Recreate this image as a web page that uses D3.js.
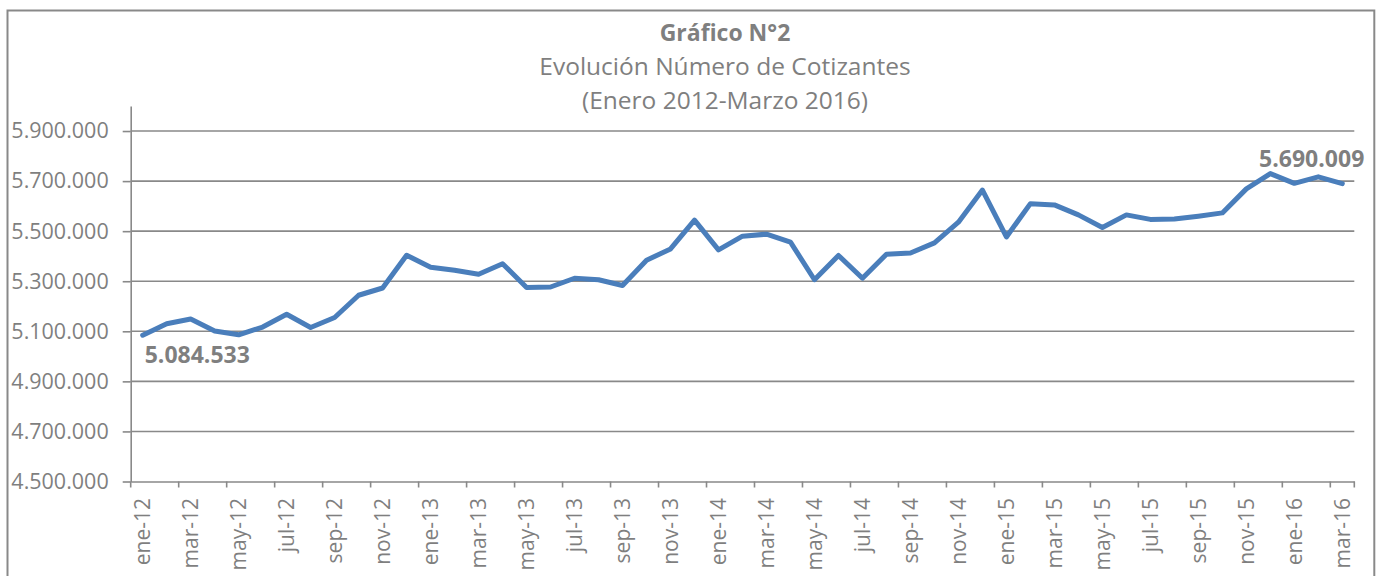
<!DOCTYPE html>
<html>
<head>
<meta charset="utf-8">
<script src="https://cdn.jsdelivr.net/npm/d3@7"></script>
<style>
  body { margin: 0; background: #fff; }
  svg text { font-family: "Open Sans", "Noto Sans", sans-serif; fill: #7f7f7f; }
</style>
</head>
<body>
<svg id="chart" width="1381" height="576"></svg>
<script>
// Months shown on the x axis (ene-12 .. mar-16)
const monthNames = ["ene", "feb", "mar", "abr", "may", "jun", "jul", "ago", "sep", "oct", "nov", "dic"];
const months = [];
for (let yr = 12; yr <= 16; yr++) {
    monthNames.forEach(function(m, k) {
        if (yr === 16 && k > 2) return;
        months.push(m + "-" + yr);
    });
}

// Cotizantes por mes
const cotizantes = [
    5084533, 5130000, 5149000, 5101000, 5086000, 5117000, 5168000, 5115000, 5155000, 5244000,
    5273000, 5404000, 5356000, 5344000, 5328000, 5370000, 5275000, 5277000, 5312000, 5306000,
    5283000, 5384000, 5429000, 5544000, 5425000, 5480000, 5488000, 5456000, 5306000, 5403000,
    5312000, 5408000, 5413000, 5453000, 5536000, 5664000, 5477000, 5610000, 5605000, 5565000,
    5515000, 5565000, 5547000, 5549000, 5560000, 5573000, 5669000, 5730000, 5691000, 5717000,
    5690009
];

const yTicks = [4500000, 4700000, 4900000, 5100000, 5300000, 5500000, 5700000, 5900000];
const yDomain = [4500000, 6000000];

const titleLines = ["Gráfico N°2", "Evolución Número de Cotizantes", "(Enero 2012-Marzo 2016)"];

const svg = d3.select("#chart");
const margin = { top: 106, left: 130.7, right: 1381 - 1354.3, bottom: 576 - 481.5 };
const width = 1381 - margin.left - margin.right;
const height = 576 - margin.top - margin.bottom;
const gridColor = "#898989";

// chart border
svg.append("rect")
    .attr("x", 7.5)
    .attr("y", 10.5)
    .attr("width", 1374.3 - 7.5)
    .attr("height", 600)
    .attr("fill", "none")
    .attr("stroke", gridColor)
    .attr("stroke-width", 2);

// titles
svg.selectAll(".title")
    .data(titleLines)
    .enter()
    .append("text")
    .attr("x", 725)
    .attr("y", (d, i) => 41 + i * 34)
    .attr("text-anchor", "middle")
    .style("font-size", (d, i) => i === 0 ? "23px" : "24.5px")
    .style("font-weight", (d, i) => i === 0 ? "bold" : "normal")
    .text(d => d);

const locale = d3.formatLocale({ decimal: ",", thousands: ".", grouping: [3], currency: ["", ""] });
const fmt = locale.format(",.0f");

const x = d3.scaleBand()
    .domain(months)
    .range([0, width])
    .padding(0);

const y = d3.scaleLinear()
    .domain(yDomain)
    .range([height, 0]);

const g = svg.append("g")
    .attr("transform", `translate(${margin.left}, ${margin.top})`);

// gridlines
g.selectAll(".grid")
    .data(yTicks.slice(1))
    .enter()
    .append("line")
    .attr("x1", 0)
    .attr("x2", width)
    .attr("y1", d => y(d))
    .attr("y2", d => y(d))
    .attr("stroke", gridColor)
    .attr("stroke-width", 1.6);

// y axis
const yAxis = g.append("g")
    .call(d3.axisLeft(y).tickValues(yTicks).tickFormat(fmt).tickSizeInner(8).tickSizeOuter(0).tickPadding(14));
yAxis.select(".domain").attr("stroke", gridColor).attr("stroke-width", 1.6);
yAxis.selectAll(".tick line").attr("stroke", gridColor).attr("stroke-width", 1.6);
yAxis.selectAll("text")
    .style("font-size", "21.5px")
    .attr("fill", "#7f7f7f");

// x axis: labels every 2 months, tick marks on category boundaries
const labelMonths = months.filter((d, i) => i % 2 === 0);
const xAxis = g.append("g")
    .attr("transform", `translate(0, ${height})`)
    .call(d3.axisBottom(x).tickValues(labelMonths).tickSize(0).tickPadding(0));
xAxis.select(".domain").attr("stroke", gridColor).attr("stroke-width", 1.6);
xAxis.selectAll("text")
    .attr("transform", "rotate(-90)")
    .attr("text-anchor", "end")
    .attr("x", -16.5)
    .attr("y", 0)
    .attr("dy", "0.36em")
    .style("font-size", "21px")
    .attr("fill", "#7f7f7f");

xAxis.selectAll(".bound")
    .data(labelMonths.concat([null]))
    .enter()
    .append("line")
    .attr("x1", d => d === null ? width : x(d))
    .attr("x2", d => d === null ? width : x(d))
    .attr("y1", 0)
    .attr("y2", 6)
    .attr("stroke", gridColor)
    .attr("stroke-width", 1.6);

// series line
const line = d3.line()
    .x((d, i) => x(months[i]) + x.bandwidth() / 2)
    .y(d => y(d));

g.append("path")
    .datum(cotizantes)
    .attr("d", line)
    .attr("fill", "none")
    .attr("stroke", "#4a7ebb")
    .attr("stroke-width", 5)
    .attr("stroke-linejoin", "round")
    .attr("stroke-linecap", "round");

// data labels for first and last point
const first = 0, last = cotizantes.length - 1;
g.append("text")
    .attr("x", x(months[first]) + x.bandwidth() / 2 + 2)
    .attr("y", y(cotizantes[first]) + 28)
    .attr("text-anchor", "start")
    .style("font-size", "23px")
    .style("font-weight", "bold")
    .text(fmt(cotizantes[first]));

g.append("text")
    .attr("x", x(months[last]) + x.bandwidth() / 2 + 22)
    .attr("y", y(cotizantes[last]) - 17)
    .attr("text-anchor", "end")
    .style("font-size", "23px")
    .style("font-weight", "bold")
    .text(fmt(cotizantes[last]));
</script>
</body>
</html>
